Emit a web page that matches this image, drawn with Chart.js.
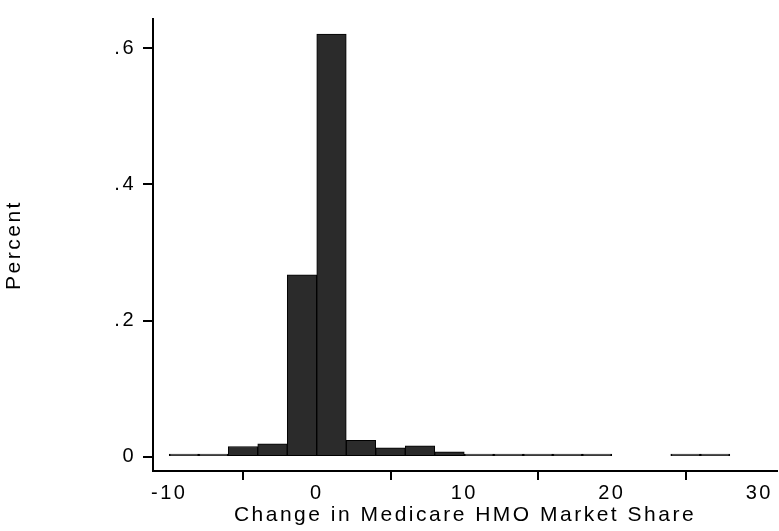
<!DOCTYPE html>
<html>
<head>
<meta charset="utf-8">
<title>Change in Medicare HMO Market Share</title>
<script src="https://cdn.jsdelivr.net/npm/chart.js@4"></script>
<style>
  html, body { margin: 0; padding: 0; background: #ffffff; }
  #wrap { width: 779px; height: 531px; position: relative; }
</style>
</head>
<body>
<div id="wrap"><canvas id="histChart"></canvas></div>
<script>
// histogram bins: width 2, centres from -9 to 27 (null = empty bin)
const binCenters = [-9, -7, -5, -3, -1, 1, 3, 5, 7, 9, 11, 13, 15, 17, 19, 21, 23, 25, 27];
const binPercent = [0.002, 0.003, 0.015, 0.019, 0.267, 0.621, 0.024, 0.013, 0.016, 0.007,
                    0.004, 0.004, 0.001, 0.001, 0.003, null, null, 0.001, 0.001];
const xTicks = [-10, 0, 10, 20, 30];
const yTicks = [0, 0.2, 0.4, 0.6];

document.addEventListener('DOMContentLoaded', () => {
  const fontFamily = '"Liberation Sans", Arial, Helvetica, sans-serif';

  // Stata text is wider than Arial, so spread the glyphs a little
  const spacingPlugin = {
    id: 'letterSpacing',
    beforeLayout(chart) { chart.ctx.letterSpacing = '2.5px'; },
    beforeDraw(chart) { chart.ctx.letterSpacing = '2.5px'; }
  };

  // ".2" style tick labels, like the original output
  const stripZero = (v) => {
    if (v === 0) return '0';
    return String(Math.round(v * 10) / 10).replace(/^0\./, '.');
  };

  new Chart(document.getElementById('histChart'), {
    type: 'bar',
    data: {
      datasets: [{
        label: 'Percent',
        data: binCenters.map((c, i) => ({ x: c, y: binPercent[i] })),
        backgroundColor: '#2b2b2b',
        borderColor: '#000000',
        borderWidth: 1,
        borderSkipped: false,
        minBarLength: 2.5,
        barPercentage: 1,
        categoryPercentage: 1
      }]
    },
    options: {
      responsive: true,
      maintainAspectRatio: false,
      animation: false,
      layout: { padding: { top: 7, right: 2, left: 0, bottom: 0 } },
      plugins: {
        legend: { display: false },
        tooltip: { enabled: false }
      },
      scales: {
        x: {
          type: 'linear',
          min: -11.1,
          max: 31.2,
          offset: false,
          afterBuildTicks: (scale) => { scale.ticks = xTicks.map(v => ({ value: v })); },
          afterFit: (scale) => { scale.height = 60; },
          ticks: { color: '#000', font: { family: fontFamily, size: 20 }, padding: 1, maxRotation: 0 },
          grid: { drawOnChartArea: false, drawTicks: true, tickLength: 9, color: '#000', lineWidth: 2 },
          border: { color: '#000', width: 2 },
          title: {
            display: true,
            text: 'Change in Medicare HMO Market Share',
            color: '#000',
            font: { family: fontFamily, size: 21 },
            padding: { top: 0, bottom: 3 }
          }
        },
        y: {
          min: -0.021,
          max: 0.643,
          afterBuildTicks: (scale) => { scale.ticks = yTicks.map(v => ({ value: v })); },
          afterFit: (scale) => { scale.width = 153; },
          ticks: { color: '#000', font: { family: fontFamily, size: 20 }, padding: 7, callback: stripZero },
          grid: { drawOnChartArea: false, drawTicks: true, tickLength: 10, color: '#000', lineWidth: 2 },
          border: { color: '#000', width: 2 },
          title: {
            display: true,
            text: 'Percent',
            color: '#000',
            font: { family: fontFamily, size: 21 },
            padding: { top: 2, bottom: 0 }
          }
        }
      }
    },
    plugins: [spacingPlugin]
  });
});
</script>
</body>
</html>
